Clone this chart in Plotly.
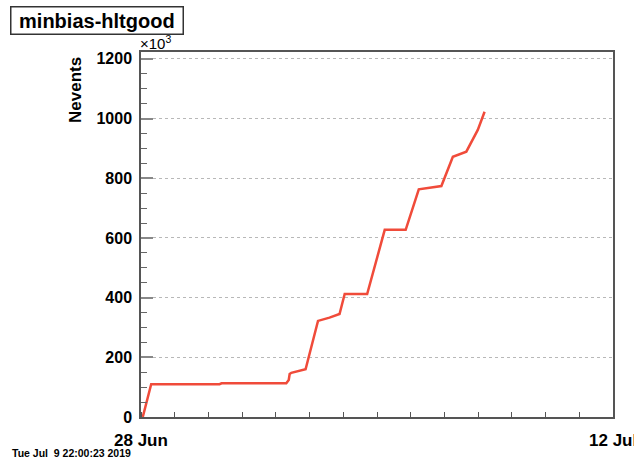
import plotly.graph_objects as go

# ---- data (Nevents in units of 10^3) ----
times = [
    "2019-06-28 01:15", "2019-06-28 03:40", "2019-06-28 07:15",
    "2019-06-30 07:55", "2019-06-30 09:20", "2019-07-02 07:25",
    "2019-07-02 09:10", "2019-07-02 09:50", "2019-07-02 11:00",
    "2019-07-02 21:10", "2019-07-03 06:00", "2019-07-03 14:10",
    "2019-07-03 21:20", "2019-07-04 01:00", "2019-07-04 17:00",
    "2019-07-05 05:30", "2019-07-05 20:25", "2019-07-06 05:45",
    "2019-07-06 21:50", "2019-07-07 06:00", "2019-07-07 15:35",
    "2019-07-07 23:45", "2019-07-08 04:35",
]
nevents_k = [
    0, 48, 110,
    110, 113, 113,
    124, 144, 148,
    160, 322, 333,
    345, 412, 412,
    627, 627, 763,
    774, 872, 889,
    962, 1023,
]
x_tickvals = ["2019-06-28", "2019-07-12"]
x_ticktext = ["28 Jun", "12 Jul"]
y_tickvals = [0, 200, 400, 600, 800, 1000, 1200]

FONT = "Liberation Sans"
PH = 365.0  # plot height px
PW = 472.0  # plot width px

fig = go.Figure()
fig.add_trace(go.Scatter(
    x=times, y=nevents_k, mode="lines",
    line=dict(color="#f04b3a", width=2.5),
    showlegend=False, hoverinfo="skip",
))

fig.update_layout(
    width=634, height=459,
    margin=dict(l=141, r=21, t=52, b=42),
    paper_bgcolor="white", plot_bgcolor="white",
    font=dict(family=FONT, color="black"),
)

fig.update_xaxes(
    type="date",
    range=["2019-06-28", "2019-07-12"],
    tickmode="array", tickvals=x_tickvals, ticktext=x_ticktext,
    showticklabels=False, ticks="",
    showgrid=False, zeroline=False,
    showline=True, linecolor="#555555", linewidth=1.5, mirror=True,
    minor=dict(tickmode="linear", tick0="2019-06-28", dtick=86400000,
               ticks="inside", ticklen=5, tickcolor="#555555", tickwidth=1,
               showgrid=False),
)

fig.update_yaxes(
    range=[0, 1223],
    tickmode="array", tickvals=y_tickvals,
    tickfont=dict(family=FONT, size=16, weight="bold", color="black"),
    ticks="inside", ticklen=12, tickwidth=2, tickcolor="#888888",
    ticklabelstandoff=4,
    showgrid=True, gridcolor="#b8b8b8", griddash="dot", gridwidth=1,
    zeroline=False,
    showline=True, linecolor="#555555", linewidth=1.5, mirror=True,
    minor=dict(tickmode="linear", tick0=0, dtick=50, ticks="inside",
               ticklen=6, tickcolor="#666666", tickwidth=1, showgrid=False),
)

# x tick labels (placed on the x axis scale)
for tv, tt in zip(x_tickvals, x_ticktext):
    fig.add_annotation(
        text=tt, xref="x", yref="paper", x=tv, y=-(440 - 417) / PH,
        xanchor="center", yanchor="middle", showarrow=False,
        font=dict(family=FONT, size=17, weight="bold", color="black"),
    )

# title box
fig.add_annotation(
    text="\u00a0minbias-hltgood\u00a0", xref="paper", yref="paper",
    x=(10 - 141) / PW, y=1 + (52 - 6) / PH, xanchor="left", yanchor="top",
    showarrow=False,
    font=dict(family=FONT, size=20, weight="bold", color="black"),
    bordercolor="#333333", borderwidth=1.5, borderpad=2, bgcolor="white",
)
# exponent
fig.add_annotation(
    text="×10<sup>3</sup>", xref="paper", yref="paper",
    x=(138 - 141) / PW, y=1 - 2 / PH, xanchor="left", yanchor="bottom",
    showarrow=False, font=dict(family=FONT, size=15, color="black"),
)
# y-axis title
fig.add_annotation(
    text="Nevents", xref="paper", yref="paper",
    x=(75 - 141) / PW, y=1 - (90 - 52) / PH, xanchor="center", yanchor="middle",
    textangle=-90, showarrow=False,
    font=dict(family=FONT, size=17, weight="bold", color="black"),
)
# timestamp
fig.add_annotation(
    text="Tue Jul  9 22:00:23 2019", xref="paper", yref="paper",
    x=(10 - 141) / PW, y=-(453 - 417) / PH, xanchor="left", yanchor="middle",
    showarrow=False,
    font=dict(family="Liberation Sans Narrow, " + FONT, size=10.5, weight="bold",
              color="black"),
)

fig.write_html("out.html")
